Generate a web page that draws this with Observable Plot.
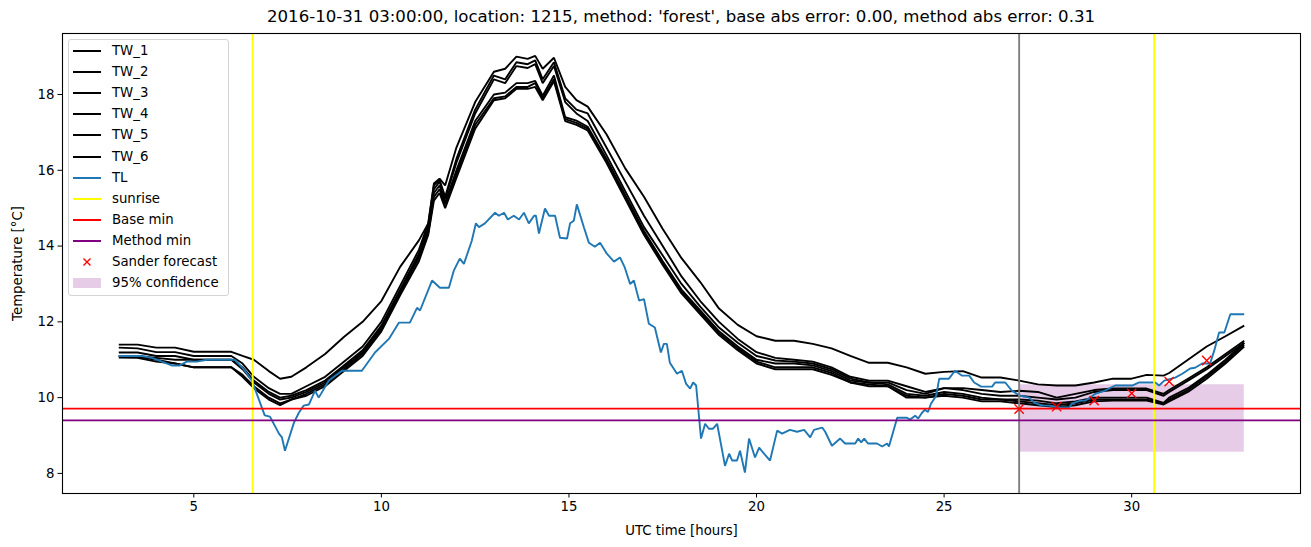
<!DOCTYPE html>
<html><head><meta charset="utf-8">
<script src="https://cdn.jsdelivr.net/npm/d3@7"></script>
<script src="https://cdn.jsdelivr.net/npm/@observablehq/plot@0.6"></script>
<style>
body{margin:0;background:#fff;font-family:"DejaVu Sans",sans-serif;}
#wrap{position:relative;width:1311px;height:547px;overflow:hidden;}
#title{position:absolute;left:62px;width:1238px;top:7px;text-align:center;font-size:16.6px;color:#000;white-space:nowrap;}
#chart{position:absolute;left:0;top:32px;}
#legend{position:absolute;left:68px;top:39px;width:161px;height:257px;border:1px solid #d4d4d4;border-radius:3px;background:rgba(255,255,255,0.8);box-sizing:border-box;}
.item{position:absolute;left:0;width:160px;height:20px;font-size:13.3px;line-height:20px;}
.item span.lab{position:absolute;left:43px;top:0;}
.sw{position:absolute;left:4px;width:28px;}
</style></head>
<body>
<div id="wrap">
  <div id="title"></div>
  <div id="chart"></div>
  <div id="legend"></div>
</div>
<script>
const titleText = "2016-10-31 03:00:00, location: 1215, method: 'forest', base abs error: 0.00, method abs error: 0.31";
const xTicks = [5, 10, 15, 20, 25, 30];
const yTicks = [8, 10, 12, 14, 16, 18];
const seriesNames = ["TW_1", "TW_2", "TW_3", "TW_4", "TW_5", "TW_6"];

const twHours = [3,3.5,4,4.5,5,5.5,6,6.3,6.6,7,7.3,7.6,8,8.5,9,9.5,10,10.5,11,11.25,11.4,11.55,11.7,12,12.5,13,13.3,13.6,13.9,14.1,14.3,14.6,14.9,15.2,15.5,16,16.5,17,17.5,18,18.5,19,19.5,20,20.5,21,21.5,22,22.5,23,23.5,24,24.5,25,25.5,26,26.5,27,27.5,28,28.5,29,29.5,30,30.4,30.85,31,31.5,32,32.5,33];
const tw1 = [11.4,11.4,11.32,11.32,11.21,11.21,11.21,11.1,11.0,10.7,10.5,10.55,10.8,11.15,11.6,12.0,12.55,13.45,14.15,14.6,15.65,15.78,15.6,16.6,17.8,18.6,18.68,19.0,18.94,19.02,18.68,18.97,18.2,17.85,17.68,16.95,16.05,15.3,14.45,13.68,13.05,12.35,11.92,11.62,11.5,11.5,11.42,11.3,11.1,10.92,10.92,10.8,10.63,10.68,10.7,10.53,10.53,10.45,10.35,10.32,10.32,10.4,10.5,10.5,10.6,10.58,10.65,11.0,11.35,11.62,11.9];
const tw2 = [11.32,11.3,11.2,11.2,11.1,11.1,11.1,10.9,10.55,10.25,10.1,10.1,10.3,10.55,10.95,11.35,12.0,12.95,13.9,14.6,15.6,15.75,15.3,16.3,17.6,18.5,18.4,18.85,18.8,18.9,18.4,18.85,17.9,17.6,17.5,16.6,15.7,14.8,14.0,13.2,12.55,12.0,11.55,11.2,11.05,11.0,10.95,10.8,10.55,10.45,10.45,10.3,10.15,10.25,10.25,10.2,10.15,10.18,10.15,10.0,10.1,10.2,10.24,10.24,10.24,10.1,10.2,10.5,10.8,11.15,11.5];
const tw3 = [11.19,11.19,11.1,11.1,11.0,11.0,11.0,10.8,10.45,10.15,10.0,10.05,10.2,10.45,10.85,11.25,11.9,12.85,13.8,14.5,15.5,15.7,15.25,16.2,17.5,18.4,18.3,18.75,18.7,18.8,18.3,18.75,17.8,17.5,17.3,16.4,15.45,14.5,13.75,13.0,12.4,11.85,11.45,11.1,10.98,10.95,10.9,10.75,10.5,10.4,10.4,10.2,10.1,10.25,10.2,10.1,10.05,10.05,10.0,9.95,10.0,10.15,10.2,10.2,10.2,10.05,10.15,10.45,10.75,11.1,11.45];
const tw4 = [11.1,11.1,11.05,11.0,11.0,11.0,11.0,10.75,10.4,10.1,9.95,10.0,10.15,10.4,10.8,11.2,11.85,12.8,13.75,14.4,15.4,15.6,15.15,16.0,17.3,18.0,18.05,18.3,18.3,18.36,17.97,18.5,17.4,17.31,17.15,16.3,15.35,14.4,13.6,12.85,12.3,11.75,11.35,11.0,10.9,10.9,10.85,10.7,10.45,10.4,10.35,10.1,10.05,10.15,10.1,10.0,9.95,9.95,9.92,9.85,9.9,10.0,10.0,10.0,10.0,9.86,10.0,10.25,10.6,11.0,11.45];
const tw5 = [11.1,11.08,11.0,10.9,10.8,10.8,10.8,10.6,10.3,10.0,9.85,9.95,10.1,10.35,10.75,11.15,11.8,12.75,13.7,14.35,15.3,15.5,15.1,15.9,17.2,17.9,17.95,18.2,18.2,18.3,17.9,18.4,17.35,17.25,17.1,16.25,15.3,14.35,13.55,12.8,12.25,11.7,11.3,10.95,10.8,10.8,10.8,10.65,10.4,10.35,10.3,10.05,10.0,10.1,10.05,9.95,9.95,9.9,9.85,9.8,9.85,9.95,9.95,9.95,9.95,9.84,9.95,10.2,10.55,10.95,11.4];
const tw6 = [11.06,11.05,10.95,10.9,10.8,10.8,10.8,10.55,10.25,9.95,9.8,9.95,10.05,10.3,10.7,11.1,11.75,12.7,13.6,14.3,15.2,15.4,15.0,15.8,17.1,17.85,17.9,18.15,18.15,18.2,17.85,18.35,17.3,17.2,17.05,16.2,15.25,14.3,13.5,12.75,12.2,11.65,11.25,10.9,10.75,10.75,10.75,10.6,10.4,10.3,10.3,10.0,10.0,10.05,10.0,9.9,9.9,9.85,9.8,9.75,9.8,9.9,9.92,9.92,9.92,9.82,9.9,10.15,10.5,10.9,11.35];

const tlHours = [3.0,3.61,3.88,4.15,4.41,4.63,4.81,5.08,5.35,6.09,6.33,6.55,6.89,7.03,7.27,7.35,7.43,7.67,7.8,7.93,8.07,8.23,8.33,8.6,8.95,9.48,9.83,10.2,10.47,10.76,10.95,11.03,11.35,11.56,11.8,11.93,12.09,12.2,12.41,12.52,12.6,12.76,13.03,13.13,13.27,13.37,13.53,13.67,13.8,13.93,14.07,14.12,14.2,14.36,14.47,14.63,14.76,14.95,15.03,15.13,15.21,15.4,15.53,15.69,15.83,16.01,16.2,16.36,16.49,16.63,16.73,16.87,17.0,17.13,17.29,17.45,17.53,17.61,17.69,17.88,18.01,18.12,18.23,18.31,18.39,18.52,18.63,18.73,18.84,18.95,19.16,19.27,19.35,19.48,19.56,19.69,19.8,19.96,20.07,20.2,20.36,20.55,20.68,20.89,21.08,21.27,21.43,21.53,21.75,21.83,22.01,22.23,22.36,22.63,22.71,22.79,22.87,22.97,23.21,23.35,23.48,23.53,23.75,24.01,24.09,24.23,24.31,24.41,24.49,24.57,24.65,24.79,24.87,25.13,25.29,25.48,25.67,25.8,25.99,26.28,26.36,26.63,26.81,27.03,27.27,27.4,27.61,27.8,28.09,28.33,28.41,28.63,28.76,29.03,29.27,29.56,30.01,30.2,30.63,30.73,30.87,31.16,31.35,31.56,31.69,31.88,32.09,32.2,32.33,32.47,32.63,33.0];
const tlTemp = [11.1,11.1,11.05,10.95,10.85,10.85,10.95,10.95,11.0,11.0,10.75,10.45,9.53,9.5,9.05,8.95,8.6,9.34,9.6,9.79,9.82,10.18,10.0,10.45,10.71,10.71,11.19,11.55,11.98,11.98,12.37,12.3,13.09,12.9,12.9,13.35,13.67,13.53,14.14,14.6,14.5,14.6,14.88,14.8,14.88,14.7,14.8,14.7,14.88,14.6,14.8,14.8,14.33,14.99,14.8,14.8,14.22,14.2,14.6,14.67,15.1,14.49,14.09,13.98,14.09,13.8,13.59,13.7,13.43,13.0,13.09,12.56,12.6,11.95,11.85,11.19,11.42,11.42,10.92,10.63,10.71,10.37,10.24,10.4,10.32,8.92,9.31,9.18,9.18,9.31,8.2,8.52,8.34,8.34,8.6,8.02,8.92,8.42,8.68,8.52,8.34,9.13,9.05,9.15,9.1,9.15,8.95,9.15,9.21,9.1,8.73,8.92,8.79,8.79,8.92,8.82,8.92,8.79,8.79,8.71,8.79,8.71,9.47,9.47,9.42,9.52,9.45,9.6,9.68,9.62,9.84,10.05,10.5,10.5,10.71,10.58,10.58,10.4,10.29,10.29,10.4,10.4,10.18,10.05,10.0,9.87,9.79,9.79,9.74,9.74,9.84,9.92,9.92,10.1,10.18,10.32,10.32,10.4,10.4,10.32,10.45,10.53,10.63,10.77,10.79,10.9,10.9,11.24,11.72,11.72,12.2,12.2];

const sunriseHours = [6.57, 30.6];
const forecastHour = 27;
const baseMin = 9.71;
const methodMin = 9.40;
const sanderHours = [27, 28, 29, 30, 31, 32];
const sanderTemp = [9.70, 9.76, 9.92, 10.11, 10.42, 10.98];
const confStart = 27, confEnd = 33, confLow = 8.56, confHigh = 10.34;

const twSeries = [tw1, tw2, tw3, tw4, tw5, tw6];
const twRows = twSeries.flatMap((vals, s) => vals.map((v, i) => ({series: seriesNames[s], hour: twHours[i], temp: v})));
const tlRows = tlHours.map((h, i) => ({hour: h, temp: tlTemp[i]}));
const sanderRows = sanderHours.map((h, i) => ({hour: h, temp: sanderTemp[i]}));
const confRows = [{x1: confStart, x2: confEnd, y1: confLow, y2: confHigh}];

document.getElementById("title").textContent = titleText;

const LW = 1.9;
const chart = Plot.plot({
  width: 1311, height: 515,
  marginLeft: 62, marginRight: 11, marginTop: 1, marginBottom: 54,
  style: {fontFamily: "'DejaVu Sans', sans-serif", fontSize: "13.3px", color: "#000", background: "transparent", overflow: "visible"},
  x: {domain: [1.5, 34.5]},
  y: {domain: [7.47, 19.61]},
  marks: [
    Plot.rect(confRows, {x1: "x1", x2: "x2", y1: "y1", y2: "y2", fill: "#800080", fillOpacity: 0.2}),
    Plot.line(twRows, {x: "hour", y: "temp", z: "series", stroke: "black", strokeWidth: LW, strokeLinejoin: "miter", strokeLinecap: "butt"}),
    Plot.line(tlRows, {x: "hour", y: "temp", stroke: "#1f77b4", strokeWidth: LW, strokeLinejoin: "miter", strokeLinecap: "butt"}),
    Plot.ruleX(sunriseHours, {stroke: "#ffff00", strokeWidth: LW}),
    Plot.ruleX([forecastHour], {stroke: "#808080", strokeWidth: LW}),
    Plot.ruleY([baseMin], {stroke: "#ff0000", strokeWidth: LW}),
    Plot.ruleY([methodMin], {stroke: "#800080", strokeWidth: LW}),
    Plot.dot(sanderRows, {x: "hour", y: "temp", symbol: "times", stroke: "#ff0000", r: 4.3, strokeWidth: 1.4}),
    Plot.frame({stroke: "#000", strokeWidth: 1.1}),
    Plot.axisX({ticks: xTicks, tickSize: 4.5, tickPadding: 3.5, label: "UTC time [hours]", labelAnchor: "center", labelOffset: 41, labelArrow: "none"}),
    Plot.axisY({ticks: yTicks, tickSize: 4.5, tickPadding: 3.5, label: "Temperature [°C]", labelAnchor: "center", labelOffset: 50, labelArrow: "none"})
  ]
});
document.getElementById("chart").appendChild(chart);

// legend (matplotlib-style, inside the axes)
const legendItems = [
  ...seriesNames.map(n => ({label: n, type: "line", color: "#000"})),
  {label: "TL", type: "line", color: "#1f77b4"},
  {label: "sunrise", type: "line", color: "#ffff00"},
  {label: "Base min", type: "line", color: "#ff0000"},
  {label: "Method min", type: "line", color: "#800080"},
  {label: "Sander forecast", type: "marker", color: "#ff0000"},
  {label: "95% confidence", type: "patch", color: "rgba(128,0,128,0.2)"}
];
const legend = document.getElementById("legend");
legendItems.forEach((it, i) => {
  const row = document.createElement("div");
  row.className = "item";
  const cy = 11 + 21.1 * i;
  row.style.top = (cy - 10) + "px";
  let sw;
  if (it.type === "line") {
    sw = `<div class="sw" style="top:9px;height:2px;background:${it.color}"></div>`;
  } else if (it.type === "marker") {
    sw = `<svg class="sw" style="top:4px;" width="28" height="12"><path d="M10.5,2.5L17.5,9.5M17.5,2.5L10.5,9.5" stroke="${it.color}" stroke-width="1.4"/></svg>`;
  } else {
    sw = `<div class="sw" style="top:5px;height:10px;background:${it.color}"></div>`;
  }
  row.innerHTML = sw + `<span class="lab">${it.label}</span>`;
  legend.appendChild(row);
});
</script>
</body></html>
